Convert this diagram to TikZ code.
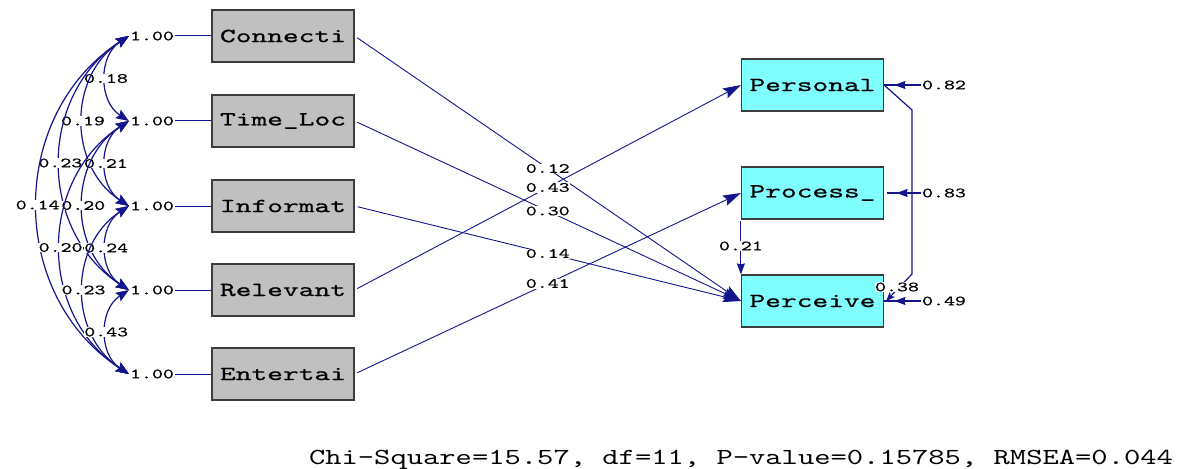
\documentclass[tikz,border=0pt]{standalone}
\usepackage{fontspec}
\newfontfamily\lisfont[FakeStretch=1.5,FakeBold=0.6]{lmmono10-regular.otf}
\newfontfamily\numfont[FakeStretch=1.47,FakeBold=0.6]{lmmono10-regular.otf}
\newfontfamily\fitfont[FakeStretch=1.35]{lmmono10-regular.otf}
\usetikzlibrary{arrows.meta,decorations.markings}
\definecolor{lisblue}{RGB}{20,20,140}
\definecolor{xbox}{RGB}{192,192,192}
\definecolor{ybox}{RGB}{128,255,255}
\definecolor{boxline}{RGB}{60,60,60}

\begin{document}
\begin{tikzpicture}[x=1pt,y=-1pt]
    \tikzstyle{var}=[draw=boxline, line width=1.2pt, minimum width=142pt, minimum height=52pt, inner sep=0pt, font=\lisfont\fontsize{20}{20}\selectfont]
    \tikzstyle{xvar}=[fill=xbox]
    \tikzstyle{yvar}=[fill=ybox]
    \tikzstyle{num}=[inner sep=1pt, font=\numfont\fontsize{14.2}{14.2}\selectfont]
    \tikzstyle{lbl}=[num, fill=white, inner sep=0.5pt]
    \tikzstyle{lnk}=[draw=lisblue, line width=1pt]
    \tikzstyle{reg}=[draw=lisblue, line width=0.9pt, shorten <=3pt, -{Stealth[length=18pt,width=11pt,inset=3pt]}]
    \tikzstyle{cov}=[draw=lisblue, line width=1.2pt, {Stealth[length=13pt,width=10pt,inset=2pt]}-{Stealth[length=13pt,width=10pt,inset=2pt]}, bend right=57, looseness=1.1]
    \tikzstyle{err}=[draw=lisblue, line width=1.2pt, postaction={decorate}, decoration={markings, mark=at position 0.72 with {\arrow{Stealth[length=11pt,width=8pt,inset=1pt]}}}]

    \useasboundingbox (0,0) rectangle (1182,468);

    % x variables
    \node[var, xvar] (Connecti) at (283,36) {Connecti};
    \node[var, xvar] (TimeLoc) at (283,121) {Time\_Loc};
    \node[var, xvar] (Informat) at (283,206) {Informat};
    \node[var, xvar] (Relevant) at (283,290) {Relevant};
    \node[var, xvar] (Entertai) at (283,374) {Entertai};

    \node[num] (vConnecti) at (152,36) {1.00};
    \node[num] (vTimeLoc) at (152,121) {1.00};
    \node[num] (vInformat) at (152,206) {1.00};
    \node[num] (vRelevant) at (152,290) {1.00};
    \node[num] (vEntertai) at (152,374) {1.00};

    \path (vConnecti) edge[lnk] (Connecti);
    \path (vTimeLoc) edge[lnk] (TimeLoc);
    \path (vInformat) edge[lnk] (Informat);
    \path (vRelevant) edge[lnk] (Relevant);
    \path (vEntertai) edge[lnk] (Entertai);

    % y variables
    \node[var, yvar] (Personal) at (812.5,85) {Personal};
    \node[var, yvar] (Process) at (812.5,193) {Process\_};
    \node[var, yvar] (Perceive) at (812.5,301) {Perceive};

    \node[num] (ePersonal) at (944,85) {0.82};
    \node[num] (eProcess) at (944,193) {0.83};
    \node[num] (ePerceive) at (944,301) {0.49};

    \path (ePersonal.west) edge[err] (Personal.east);
    \path (eProcess.west) edge[err] ([xshift=3pt]Process.east);
    \path (ePerceive.west) edge[err] (Perceive.east);

    % covariances of x
    \path (vConnecti.west) edge[cov] node[lbl] {0.18} (vTimeLoc.west);
    \path (vConnecti.west) edge[cov] node[lbl] {0.19} (vInformat.west);
    \path (vConnecti.west) edge[cov] node[lbl] {0.23} (vRelevant.west);
    \path (vConnecti.west) edge[cov] node[lbl] {0.14} (vEntertai.west);
    \path (vTimeLoc.west) edge[cov] node[lbl] {0.21} (vInformat.west);
    \path (vTimeLoc.west) edge[cov] node[lbl] {0.20} (vRelevant.west);
    \path (vTimeLoc.west) edge[cov] node[lbl] {0.20} (vEntertai.west);
    \path (vInformat.west) edge[cov] node[lbl] {0.24} (vRelevant.west);
    \path (vInformat.west) edge[cov] node[lbl] {0.23} (vEntertai.west);
    \path (vRelevant.west) edge[cov] node[lbl] {0.43} (vEntertai.west);

    % paths
    \path (Connecti.east) edge[reg] node[lbl] {0.12} (Perceive.west);
    \path (TimeLoc.east) edge[reg] node[lbl] {0.30} (Perceive.west);
    \path (Informat.east) edge[reg] node[lbl] {0.14} (Perceive.west);
    \path (Relevant.east) edge[reg] node[lbl] {0.43} (Personal.west);
    \path (Entertai.east) edge[reg] node[lbl] {0.41} (Process.west);

    \path ([yshift=2pt]Process.south west) edge[reg, -{Stealth[length=11pt,width=8pt,inset=1pt]}] node[lbl] {0.21} (Perceive.north west);

    % error covariance
    \coordinate (k1) at (912,110);
    \coordinate (k2) at (912,274);
    \draw[lisblue, line width=1.2pt, -{Stealth[length=9pt,width=7pt,inset=2pt]}] (Personal.east) -- (k1) -- (k2) -- ([xshift=2pt]Perceive.east);
    \node[lbl] (l38) at (897,287) {0.38};

    \node[anchor=base, font=\fitfont\fontsize{23}{23}\selectfont] (fit) at (741,464) {Chi-Square=15.57, df=11, P-value=0.15785, RMSEA=0.044};
\end{tikzpicture}
\end{document}
